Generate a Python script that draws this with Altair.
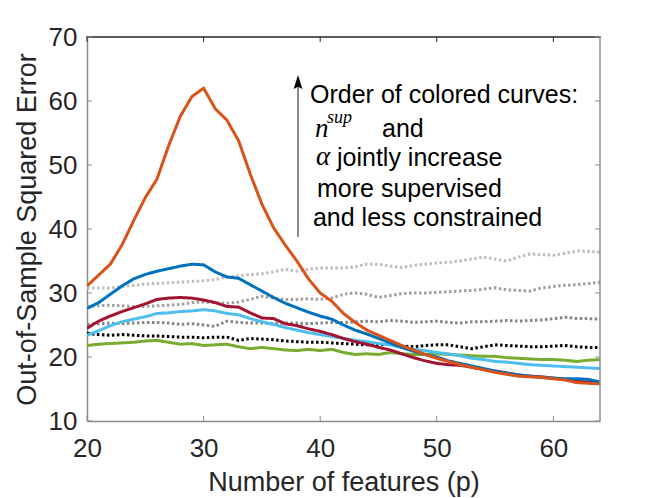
import altair as alt
import pandas as pd

# ---------------- data ----------------
P = list(range(20, 65))

light_gray = [30.8, 30.8, 30.8, 31.0, 31.2, 31.4, 31.5, 31.6, 31.7, 31.8, 31.9, 32.1, 32.5, 32.7, 32.9,
              33.0, 33.3, 33.7, 33.4, 33.7, 33.9, 33.9, 33.9, 34.1, 34.5, 34.5, 34.2, 34.0, 34.3, 34.5,
              34.7, 34.8, 35.0, 35.3, 35.6, 35.3, 35.0, 35.6, 36.1, 36.0, 35.9, 36.2, 36.6, 36.5, 36.4]
mid_gray = [27.9, 28.0, 28.1, 28.0, 27.9, 27.9, 28.0, 28.1, 28.2, 28.5, 28.6, 28.5, 28.4, 28.6, 29.0,
            29.5, 29.2, 29.0, 29.0, 29.1, 29.0, 29.2, 29.8, 30.0, 29.8, 29.3, 29.6, 29.9, 30.0, 30.0,
            30.1, 30.2, 30.3, 30.4, 30.6, 30.8, 30.5, 30.4, 30.3, 30.8, 31.0, 31.2, 31.3, 31.5, 31.7]
dark_gray = [25.1, 25.2, 25.3, 25.2, 25.3, 25.4, 25.4, 25.3, 25.1, 25.2, 25.0, 24.8, 25.6, 25.4, 25.3,
             25.3, 25.2, 25.3, 25.3, 25.2, 25.3, 25.4, 25.4, 25.5, 25.6, 25.5, 25.7, 25.6, 25.4, 25.5,
             25.6, 25.4, 25.3, 25.5, 25.5, 25.6, 25.7, 25.6, 25.7, 25.8, 26.0, 26.2, 26.0, 26.0, 25.9]
black = [23.7, 23.5, 23.4, 23.5, 23.4, 23.3, 23.3, 23.2, 23.1, 23.1, 23.0, 23.1, 23.1, 22.6, 22.9,
         22.8, 22.7, 22.5, 22.4, 22.3, 22.3, 22.2, 22.1, 22.0, 21.9, 21.9, 22.0, 21.7, 21.6, 21.8,
         21.9, 21.9, 21.6, 21.3, 21.6, 21.9, 21.8, 21.7, 21.6, 21.6, 21.7, 21.8, 21.6, 21.5, 21.5]
green = [21.8, 22.0, 22.1, 22.2, 22.3, 22.5, 22.6, 22.3, 22.0, 22.1, 21.8, 21.9, 22.0, 21.6, 21.3,
         21.5, 21.3, 21.1, 21.0, 21.2, 21.0, 21.2, 20.7, 20.4, 20.5, 20.4, 20.7, 20.5, 20.4, 20.4,
         20.5, 20.4, 20.3, 20.2, 20.1, 20.1, 19.9, 19.8, 19.7, 19.6, 19.6, 19.5, 19.3, 19.5, 19.6]
light_blue = [23.4, 24.1, 24.9, 25.5, 25.9, 26.3, 26.8, 26.9, 27.1, 27.2, 27.4, 27.2, 26.8, 26.6, 26.0,
              25.5, 25.1, 24.6, 24.2, 23.8, 23.5, 23.2, 22.9, 22.6, 22.4, 22.1, 21.9, 21.5, 21.2, 21.0,
              20.7, 20.5, 20.2, 19.8, 19.6, 19.3, 19.2, 19.0, 18.8, 18.7, 18.6, 18.5, 18.4, 18.3, 18.2]
red = [24.5, 25.6, 26.4, 27.1, 27.7, 28.3, 29.0, 29.2, 29.3, 29.2, 28.9, 28.5, 27.9, 27.8, 26.9,
       26.1, 26.0, 25.2, 24.9, 24.4, 24.0, 23.5, 22.9, 22.4, 22.0, 21.5, 21.1, 20.5, 19.9, 19.4,
       19.0, 18.8, 18.7, 18.4, 18.1, 17.8, 17.5, 17.2, 17.0, 16.9, 16.7, 16.5, 16.2, 16.1, 16.0]
blue = [27.6, 28.5, 29.8, 31.1, 32.2, 32.9, 33.4, 33.8, 34.2, 34.5, 34.4, 33.3, 32.5, 32.3, 31.3,
        30.3, 29.3, 28.4, 27.7, 27.0, 26.4, 25.9, 25.0, 24.2, 23.6, 22.9, 22.2, 21.5, 20.9, 20.4,
        20.0, 19.4, 19.0, 18.6, 18.2, 17.8, 17.5, 17.2, 17.0, 16.8, 16.7, 16.6, 16.6, 16.5, 16.1]
orange = [31.1, 32.8, 34.5, 37.5, 41.3, 44.9, 47.8, 53.0, 57.6, 60.7, 62.0, 58.8, 57.0, 53.8, 48.6,
          43.9, 40.2, 37.5, 35.0, 32.2, 30.0, 28.7, 26.8, 25.4, 24.2, 23.4, 22.6, 21.8, 21.1, 20.4,
          19.8, 19.3, 18.8, 18.4, 18.0, 17.6, 17.3, 17.0, 16.9, 16.8, 16.6, 16.4, 16.0, 15.9, 15.8]

series_names = ["s1", "s2", "s3", "s4", "s5", "s6", "s7", "s8", "s9"]
series_values = [light_gray, mid_gray, dark_gray, black, green, light_blue, red, blue, orange]
series_colors = ["#BDBDBD", "#A0A0A0", "#858585", "#000000", "#77AC30", "#4DBEEE", "#A2142F", "#0072BD", "#D95319"]
series_dash = [[2.5, 2.5], [2.5, 2.5], [2.5, 2.5], [2.5, 2.5], [1, 0], [1, 0], [1, 0], [1, 0], [1, 0]]

x_domain = [20, 64]
y_domain = [10, 70]
x_ticks = [20, 30, 40, 50, 60]
y_ticks = [10, 20, 30, 40, 50, 60, 70]

# annotation
sans_x = [39.13, 45.30, 41.44, 39.73, 39.38]
sans_y = [59.69, 54.375, 49.9, 45.0, 40.47]
sans_text = ["Order of colored curves:", "and", "jointly increase", "more supervised", "and less constrained"]
serif_big_x = [39.56, 39.64]
serif_big_y = [54.375, 49.95]
serif_big_text = ["n", "α"]
serif_small_x = [40.585]
serif_small_y = [56.56]
serif_small_text = ["sup"]
arrow_x = [38.1]
arrow_y0 = [38.75]
arrow_y1 = [62.7]

# ---------------- build ----------------
rows = []
for name, vals in zip(series_names, series_values):
    for p, v in zip(P, vals):
        rows.append({"p": p, "err": v, "series": name})
df = pd.DataFrame(rows)

W, H = 513, 384
FONT = "Liberation Sans"
TXT = "#262626"
AX = "#8C8C8C"
DARK = "#262626"

xs = alt.Scale(domain=x_domain, nice=False, zero=False)
ys = alt.Scale(domain=y_domain, nice=False, zero=False)

lines = alt.Chart(df).mark_line(strokeWidth=3, clip=True).encode(
    x=alt.X("p:Q", scale=xs, axis=alt.Axis(
        orient="bottom", values=x_ticks, ticks=False, tickSize=0, labelPadding=14, labelFlush=False,
        labelFont=FONT, labelFontSize=26, labelColor=TXT, grid=False,
        title="Number of features (p)", titleFont=FONT, titleFontSize=27, titleFontWeight="normal",
        titleColor=TXT, titlePadding=8, domainColor=AX, domainWidth=1.5)),
    y=alt.Y("err:Q", scale=ys, axis=alt.Axis(
        orient="left", values=y_ticks, ticks=False, tickSize=0, labelPadding=10, labelFlush=False,
        labelFont=FONT, labelFontSize=26, labelColor=TXT, grid=False,
        title="Out-of-Sample Squared Error", titleFont=FONT, titleFontSize=27, titleFontWeight="normal",
        titleColor=TXT, titlePadding=7, domainColor=AX, domainWidth=1.5)),
    color=alt.Color("series:N", scale=alt.Scale(domain=series_names, range=series_colors), legend=None),
    strokeDash=alt.StrokeDash("series:N", scale=alt.Scale(domain=series_names, range=series_dash), legend=None),
)

# box: top and right edges from the domain ends
top_df = pd.DataFrame({"x0": [x_domain[0]], "x1": [x_domain[1]], "y": [y_domain[1]]})
right_df = pd.DataFrame({"x": [x_domain[1]], "y0": [y_domain[0]], "y1": [y_domain[1]]})
top_edge = alt.Chart(top_df).mark_rule(color=DARK, strokeWidth=1.5, strokeCap="square").encode(
    x=alt.X("x0:Q", scale=xs, axis=None), x2="x1:Q", y=alt.Y("y:Q", scale=ys, axis=None))
right_edge = alt.Chart(right_df).mark_rule(color=AX, strokeWidth=1.5).encode(
    x=alt.X("x:Q", scale=xs, axis=None), y=alt.Y("y0:Q", scale=ys, axis=None), y2="y1:Q")

# inward ticks on all four sides
xt_df = pd.DataFrame({"v": x_ticks, "lo": [y_domain[0]] * len(x_ticks), "hi": [y_domain[1]] * len(x_ticks)})
yt_df = pd.DataFrame({"v": y_ticks, "lo": [x_domain[0]] * len(y_ticks), "hi": [x_domain[1]] * len(y_ticks)})
tick_bottom = alt.Chart(xt_df).mark_tick(orient="vertical", size=5, thickness=1, color=AX, yOffset=-2.5, opacity=1).encode(
    x=alt.X("v:Q", scale=xs, axis=None), y=alt.Y("lo:Q", scale=ys, axis=None))
tick_top = alt.Chart(xt_df).mark_tick(orient="vertical", size=5, thickness=1, color=DARK, yOffset=2.5, opacity=1).encode(
    x=alt.X("v:Q", scale=xs, axis=None), y=alt.Y("hi:Q", scale=ys, axis=None))
tick_left = alt.Chart(yt_df).mark_tick(orient="horizontal", size=5, thickness=1, color=AX, xOffset=2.5, opacity=1).encode(
    y=alt.Y("v:Q", scale=ys, axis=None), x=alt.X("lo:Q", scale=xs, axis=None))
tick_right = alt.Chart(yt_df).mark_tick(orient="horizontal", size=5, thickness=1, color=AX, xOffset=-2.5, opacity=1).encode(
    y=alt.Y("v:Q", scale=ys, axis=None), x=alt.X("hi:Q", scale=xs, axis=None))

arrow_df = pd.DataFrame({"x": arrow_x, "y0": arrow_y0, "y1": arrow_y1})
arrow_rule = alt.Chart(arrow_df).mark_rule(color="#666666", strokeWidth=1.5).encode(
    x=alt.X("x:Q", scale=xs, axis=None),
    y=alt.Y("y0:Q", scale=ys, axis=None),
    y2="y1:Q",
)
arrow_head = alt.Chart(arrow_df).mark_point(
    shape="M0,-1L0.5,0.6L0,0.35L-0.5,0.6Z", filled=True, color="#000000", opacity=1, size=306
).encode(
    x=alt.X("x:Q", scale=xs, axis=None),
    y=alt.Y("y1:Q", scale=ys, axis=None),
)

sans_df = pd.DataFrame({"x": sans_x, "y": sans_y, "t": sans_text})
serif_big_df = pd.DataFrame({"x": serif_big_x, "y": serif_big_y, "t": serif_big_text})
serif_small_df = pd.DataFrame({"x": serif_small_x, "y": serif_small_y, "t": serif_small_text})

def text_layer(d, font, size, style):
    return alt.Chart(d).mark_text(
        align="left", baseline="alphabetic", font=font, fontSize=size, fontStyle=style, color="#000000"
    ).encode(
        x=alt.X("x:Q", scale=xs, axis=None),
        y=alt.Y("y:Q", scale=ys, axis=None),
        text="t:N",
    )

t1 = text_layer(sans_df, FONT, 25, "normal")
t2 = text_layer(serif_big_df, "Liberation Serif", 27, "italic")
t3 = text_layer(serif_small_df, "Liberation Serif", 18, "italic")

chart = alt.layer(
    lines, top_edge, right_edge, tick_bottom, tick_top, tick_left, tick_right,
    arrow_rule, arrow_head, t1, t2, t3
).resolve_axis(
    x="independent", y="independent"
).properties(
    width=W, height=H,
    autosize=alt.AutoSizeParams(type="none"),
    padding={"left": 79, "top": 29, "right": 40, "bottom": 76},
    background="white",
).configure_view(stroke=None)

chart.save("out.html", embed_options={"renderer": "svg", "actions": False})
